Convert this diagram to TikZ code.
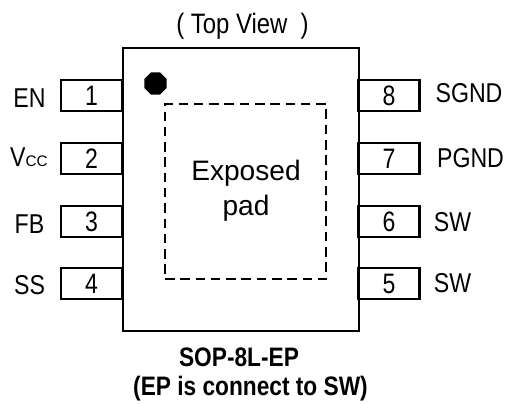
\documentclass[tikz,border=0pt]{standalone}
\usepackage{fontspec}
\setmainfont[FakeStretch=0.85]{Liberation Sans}
\newfontfamily\padfont{Liberation Sans}
\newfontfamily\pinfont[FakeStretch=0.82]{Liberation Sans}
\usetikzlibrary{shapes.geometric,positioning}
\tikzstyle{body}  =[draw, line width=1.6pt, minimum width=4.72cm,
                    minimum height=5.66cm, inner sep=0pt, outer sep=0pt]
\tikzstyle{pin}   =[draw, line width=1.2pt, minimum width=1.22cm,
                    minimum height=0.62cm, inner sep=0pt, outer sep=0pt,
                    font=\pinfont\fontsize{16}{16}\selectfont]
\tikzstyle{pinname}=[inner sep=0pt, font=\fontsize{15.5}{15.5}\selectfont]
\tikzstyle{padname}=[inner sep=0pt, align=center,
                    font=\padfont\fontsize{16}{20}\selectfont]
\tikzstyle{pad}   =[draw, line width=0.8pt, dash pattern=on 5.4pt off 3.3pt,
                    minimum width=3.22cm, minimum height=3.5cm,
                    inner sep=0pt, outer sep=0pt]
\tikzstyle{marker}=[regular polygon, regular polygon sides=8, fill=black,
                    minimum size=0.48cm, inner sep=0pt, outer sep=0pt]
\tikzstyle{caption}=[inner sep=0pt,
                    font=\fontsize{15.2}{15.2}\selectfont\bfseries]
\begin{document}
\begin{tikzpicture}[x=0.02cm,y=-0.02cm]
    \useasboundingbox (0,0) rectangle (507,403);

    \node (top) [pinname] at (242.5,26) {\fontsize{16}{16}\selectfont ( Top View~~)};

    \foreach \i/\y in {1/95.5,2/158.5,3/221.5,4/283.5}
        \node (\i) [pin] at (91.5,\y) {\i};
    \foreach \i/\y in {8/95.5,7/158.5,6/221.5,5/283.5}
        \node (\i) [pin] at (389,\y) {\i};

    \node (chip) [body] at (241,189.5) {};
    \node (pad) [pad] at (245.5,191.5) {};
    \node (dot) [marker] at (155.5,83.5) {};
    \node (padtext) [padname] at (246,191) {Exposed\\pad};

    \foreach \t/\x/\y in {EN/29.5/98,FB/29.5/224,SS/29.5/285,
                          SGND/469/93,PGND/470.5/158,SW/452.5/222,SW/452.5/283}
        \node (n\y) [pinname] at (\x,\y) {\t};
    \node (vcc) [pinname] at (29,157) {V{\padfont\fontsize{8.7}{8.7}\selectfont CC}};

    \node (name) [caption] at (239,357) {SOP-8L-EP};
    \node (note) [caption] at (250.5,389) {(EP is connect to SW)};
\end{tikzpicture}
\end{document}
